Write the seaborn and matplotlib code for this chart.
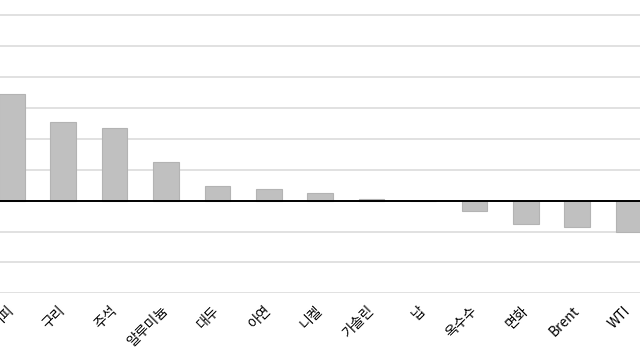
import matplotlib
matplotlib.use("Agg")
import matplotlib.pyplot as plt
import seaborn as sns
import pandas as pd

categories = ["커피", "구리", "주석", "알루미늄", "대두", "아연", "니켈", "가솔린", "납",
              "옥수수", "면화", "Brent", "WTI"]
values = [3.46, 2.56, 2.35, 1.24, 0.48, 0.37, 0.24, 0.05, 0.0, -0.34, -0.74, -0.86, -1.0]

sns.set_theme(style="white")
plt.rcParams['font.family'] = ['Noto Sans CJK KR', 'DejaVu Sans']

df = pd.DataFrame({"cat": categories, "val": values})

fig = plt.figure(figsize=(6.4, 3.6), dpi=100)
W, H = 640, 360
left_px, right_px = -13.9, 654.3
unit = (293.3 - 15.5) / 9
top_px, bot_px = 15.5 - 0.06 * unit, 293.3
ax = fig.add_axes([left_px / W, 1 - bot_px / H, (right_px - left_px) / W, (bot_px - top_px) / H])

sns.barplot(data=df, x="cat", y="val", color="#c0c0c0", width=0.5, ax=ax,
            edgecolor="#b3b3b3", linewidth=0.8, saturation=1, zorder=3)

ax.set_xlim(-0.5, len(categories) - 0.5)
ax.set_ylim(-3, 6.06)
ax.set_yticks(range(-3, 7))
ax.yaxis.grid(True, color="#d9d9d9", linewidth=1.1, zorder=0)
ax.set_axisbelow(True)
ax.axhline(0, color="black", linewidth=1.4, zorder=4)
for s in ax.spines.values():
    s.set_visible(False)
ax.set_xlabel("")
ax.set_ylabel("")
ax.set_yticklabels([])
ax.tick_params(axis="both", length=0)
ax.tick_params(axis="x", pad=11)
for lab in ax.get_xticklabels():
    lab.set_rotation(45)
    lab.set_ha("right")
    lab.set_va("center")
    lab.set_rotation_mode("anchor")
    lab.set_fontsize(10)
    lab.set_color("black")

fig.savefig("out.png", dpi=100)
